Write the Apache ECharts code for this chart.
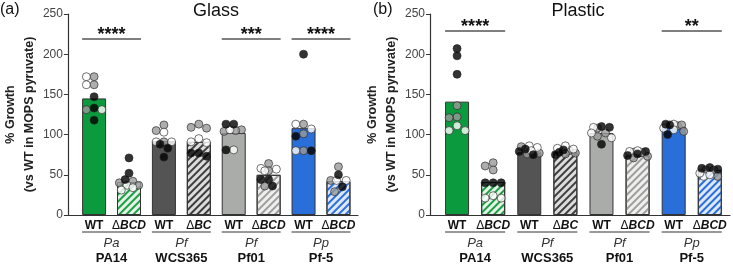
<!DOCTYPE html>
<html>
<head>
<meta charset="utf-8">
<script src="https://cdn.jsdelivr.net/npm/echarts@6/dist/echarts.min.js"></script>
<style>
  html, body { margin: 0; padding: 0; background: #fff; }
  #chart { width: 733px; height: 265px; }
</style>
</head>
<body>
<div id="chart"></div>
<script>
// bar order: WT / mutant for each strain
const BAR_LABELS = ['WT', 'ΔBCD', 'WT', 'ΔBC', 'WT', 'ΔBCD', 'WT', 'ΔBCD'];
const SPECIES = ['Pa', 'Pf', 'Pf', 'Pp'];
const STRAINS = ['PA14', 'WCS365', 'Pf01', 'Pf-5'];
const Y_TICKS = [0, 50, 100, 150, 200, 250];

// Glass (a)
const GLASS_MEANS = [145, 41, 92, 91, 102, 50, 108, 42];
const GLASS_BLACK = [[147, 133, 118], [71, 52, 44], [88, 83, 72], [77, 77, 73], [113, 113, 81], [44, 44, 36], [200, 98, 80], [50, 35]];
const GLASS_GRAY  = [[172, 162, 131], [42, 40, 37], [112, 105, 91], [109, 108, 113], [104, 106, 105], [64, 55, 36], [113, 101, 80], [60, 43, 29]];
const GLASS_WHITE = [[172, 162, 131], [37, 34, 31], [103, 91, 91], [91, 90, 95], [106, 81], [58, 57, 55], [113, 107, 80], [43, 43]];
const GLASS_SIG_GROUPS = [0, 2, 3];
const GLASS_SIG_STARS = ['****', '***', '****'];
const GLASS_SIG_Y = 219;

// Plastic (b)
const PLASTIC_MEANS = [141, 41, 78, 78, 102, 74, 110, 56];
const PLASTIC_BLACK = [[207, 198, 175], [40, 40, 40], [82, 79, 75], [81, 78, 75], [110, 109, 88], [79, 76, 74], [113, 112, 100], [58, 59, 57]];
const PLASTIC_GRAY  = [[136, 122, 121], [65, 61, 56], [85, 77, 76], [80, 76, 77], [108, 102, 98], [78, 73, 71], [111, 112, 104], [56, 56, 48]];
const PLASTIC_WHITE = [[111, 105, 105], [24, 21, 21], [86, 84, 80], [86, 83, 82], [109, 102, 96], [79, 78, 80], [113, 106, 108], [48, 52, 50]];
const PLASTIC_SIG_GROUPS = [0, 3];
const PLASTIC_SIG_STARS = ['****', '**'];
const PLASTIC_SIG_Y = 229;

// colours per strain
const WT_COLORS = ['#0b9a3d', '#545454', '#a9aca8', '#2a6fd9'];
const HATCH_FILL = ['#e3f4e7', '#dcdcdc', '#efefef', '#dde8fb'];
const HATCH_LINE = ['#1f9e47', '#3d3d3d', '#9d9f9c', '#2a6fd9'];

const FONT = 'Liberation Sans, Arial, Helvetica, sans-serif';
const X_MIN = -0.75, X_MAX = 7.56;
const GRID_W = 300, GRID_TOP = 14, GRID_H = 201;
const BAR_W = 24, DOT = 8;

function barData(means) {
  return means.map((m, i) => {
    const g = Math.floor(i / 2);
    if (i % 2 === 0) {
      return { value: [i, m], itemStyle: { color: WT_COLORS[g] } };
    }
    return {
      value: [i, m],
      itemStyle: {
        color: HATCH_FILL[g],
        decal: {
          symbol: 'rect', symbolSize: 1, color: HATCH_LINE[g],
          dashArrayX: [1, 0], dashArrayY: [1.6, 2.4], rotation: -Math.PI / 4
        }
      }
    };
  });
}

// small beeswarm: dots spread inside the bar, overlapping a bit when crowded
function dotData(black, gray, white) {
  const pxX = GRID_W / (X_MAX - X_MIN);
  const pxY = GRID_H / 250;
  const cand = [0, -4, 4, -8, 8, -2, 2, -6, 6, -10, 10];
  const out = [];
  for (let i = 0; i < 8; i++) {
    const pts = [];
    (gray[i] || []).forEach(v => pts.push({ v, c: '#9a9a9a' }));
    (white[i] || []).forEach(v => pts.push({ v, c: '#ffffff' }));
    (black[i] || []).forEach(v => pts.push({ v, c: '#000000' }));
    const placed = [];
    pts.slice().sort((a, b) => b.v - a.v).forEach(p => {
      let best = 0, bestD = -1;
      for (const o of cand) {
        const d = placed.reduce((m, q) => Math.min(m, Math.hypot(q.o - o, (q.v - p.v) * pxY)), 99);
        if (d >= DOT - 1) { best = o; bestD = d; break; }
        if (d > bestD) { bestD = d; best = o; }
      }
      placed.push({ o: best, v: p.v });
      p.o = best;
    });
    pts.forEach(p => out.push({ value: [i + p.o / pxX, p.v], itemStyle: { color: p.c } }));
  }
  return out;
}

function sigSeries(xi, yi, groups, stars, yVal) {
  return {
    type: 'custom', xAxisIndex: xi, yAxisIndex: yi, clip: false, silent: true, z: 5,
    data: groups.map((g, k) => [g, yVal, k]),
    encode: { x: 0, y: 1 },
    renderItem: (params, api) => {
      const g = api.value(0), k = api.value(2);
      const x0 = api.coord([2 * g, yVal])[0] - BAR_W / 2;
      const x1 = api.coord([2 * g + 1, yVal])[0] + BAR_W / 2;
      const y = api.coord([0, yVal])[1];
      return {
        type: 'group', children: [
          { type: 'line', shape: { x1: x0, y1: y, x2: x1, y2: y }, style: { stroke: '#555', lineWidth: 1.5 } },
          { type: 'text', style: { text: stars[k], x: (x0 + x1) / 2, y: y - 4, align: 'center', verticalAlign: 'middle',
            fontSize: 18, fontWeight: 'bold', fontFamily: FONT, fill: '#111' } }
        ]
      };
    }
  };
}

function groupSeries(xi, yi) {
  return {
    type: 'custom', xAxisIndex: xi, yAxisIndex: yi, clip: false, silent: true,
    data: SPECIES.map((s, g) => [g, 0]),
    encode: { x: 0, y: 1 },
    renderItem: (params, api) => {
      const g = api.value(0);
      const x0 = api.coord([2 * g, 0])[0] - BAR_W / 2;
      const x1 = api.coord([2 * g + 1, 0])[0] + BAR_W / 2;
      const y0 = api.coord([0, 0])[1];
      const cx = (x0 + x1) / 2;
      return {
        type: 'group', children: [
          { type: 'line', shape: { x1: x0, y1: y0 + 17, x2: x1, y2: y0 + 17 }, style: { stroke: '#333', lineWidth: 1 } },
          { type: 'text', style: { text: SPECIES[g], x: cx, y: y0 + 28, align: 'center', verticalAlign: 'middle',
            fontSize: 13, fontStyle: 'italic', fontFamily: FONT, fill: '#333' } },
          { type: 'text', style: { text: STRAINS[g], x: cx, y: y0 + 43, align: 'center', verticalAlign: 'middle',
            fontSize: 13, fontWeight: 'bold', fontFamily: FONT, fill: '#111' } }
        ]
      };
    }
  };
}

function xAxis(gi) {
  return {
    type: 'value', gridIndex: gi, min: X_MIN, max: X_MAX,
    axisLine: { show: true, onZero: false, lineStyle: { color: '#333', width: 1.2 } },
    axisTick: { show: false }, splitLine: { show: false },
    axisLabel: {
      customValues: [0, 1, 2, 3, 4, 5, 6, 7], margin: 5,
      formatter: v => {
        const t = BAR_LABELS[Math.round(v)];
        return t === 'WT' ? '{wt|WT}' : '{d|Δ}{m|' + t.slice(1) + '}';
      },
      rich: {
        wt: { fontSize: 12, fontWeight: 'bold', fontFamily: FONT, color: '#111' },
        d: { fontSize: 12, fontFamily: FONT, color: '#111' },
        m: { fontSize: 12, fontWeight: 'bold', fontStyle: 'italic', fontFamily: FONT, color: '#111' }
      }
    }
  };
}

function yAxis(gi, gap) {
  return {
    type: 'value', gridIndex: gi, min: 0, max: 250, interval: 50,
    name: '% Growth\n(vs WT in MOPS pyruvate)', nameLocation: 'middle', nameGap: gap, nameRotate: 90,
    nameTextStyle: { fontSize: 12.5, fontWeight: 'bold', fontFamily: FONT, color: '#222', lineHeight: 19 },
    axisLine: { show: true, onZero: false, lineStyle: { color: '#333', width: 1.2 } },
    axisTick: { show: true, length: 4, lineStyle: { color: '#333' } },
    axisLabel: { fontSize: 12, fontFamily: FONT, color: '#444', margin: 5,
      customValues: Y_TICKS },
    splitLine: { show: false }
  };
}

const chart = echarts.init(document.getElementById('chart'), null, { renderer: 'canvas' });

const barStyle = { borderColor: '#333', borderWidth: 1 };
const dotStyle = { borderColor: '#222', borderWidth: 0.8 };

chart.setOption({
  animation: false,
  backgroundColor: '#fff',
  grid: [
    { left: 58, top: GRID_TOP, width: GRID_W, height: GRID_H },
    { left: 430, top: GRID_TOP, width: GRID_W, height: GRID_H }
  ],
  xAxis: [xAxis(0), xAxis(1)],
  yAxis: [yAxis(0, 22), yAxis(1, 28)],
  graphic: [
    { type: 'text', x: 0, y: 10, style: { text: '(a)', fontSize: 16, fontFamily: FONT, fill: '#111', verticalAlign: 'middle' } },
    { type: 'text', x: 216, y: 11, style: { text: 'Glass', fontSize: 18, fontFamily: FONT, fill: '#111', align: 'center', verticalAlign: 'middle' } },
    { type: 'text', x: 373, y: 10, style: { text: '(b)', fontSize: 16, fontFamily: FONT, fill: '#111', verticalAlign: 'middle' } },
    { type: 'text', x: 578, y: 11, style: { text: 'Plastic', fontSize: 18, fontFamily: FONT, fill: '#111', align: 'center', verticalAlign: 'middle' } }
  ],
  series: [
    { type: 'bar', xAxisIndex: 0, yAxisIndex: 0, barWidth: BAR_W, itemStyle: barStyle, data: barData(GLASS_MEANS) },
    { type: 'scatter', xAxisIndex: 0, yAxisIndex: 0, symbolSize: DOT, itemStyle: dotStyle, z: 4,
      data: dotData(GLASS_BLACK, GLASS_GRAY, GLASS_WHITE) },
    sigSeries(0, 0, GLASS_SIG_GROUPS, GLASS_SIG_STARS, GLASS_SIG_Y),
    groupSeries(0, 0),
    { type: 'bar', xAxisIndex: 1, yAxisIndex: 1, barWidth: BAR_W, itemStyle: barStyle, data: barData(PLASTIC_MEANS) },
    { type: 'scatter', xAxisIndex: 1, yAxisIndex: 1, symbolSize: DOT, itemStyle: dotStyle, z: 4,
      data: dotData(PLASTIC_BLACK, PLASTIC_GRAY, PLASTIC_WHITE) },
    sigSeries(1, 1, PLASTIC_SIG_GROUPS, PLASTIC_SIG_STARS, PLASTIC_SIG_Y),
    groupSeries(1, 1)
  ]
});
</script>
</body>
</html>
